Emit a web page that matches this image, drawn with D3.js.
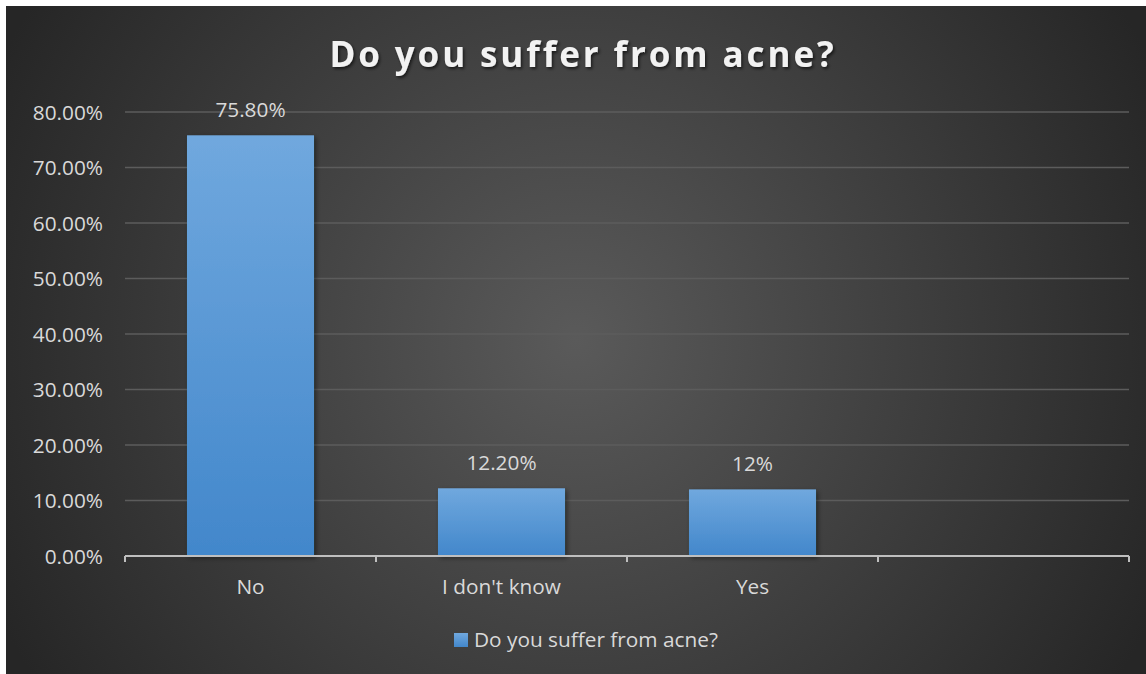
<!DOCTYPE html>
<html>
<head>
<meta charset="utf-8">
<script src="https://cdn.jsdelivr.net/npm/d3@7"></script>
<style>
html,body{margin:0;padding:0;background:#fff;}
svg{display:block;}
</style>
</head>
<body>
<svg id="chart" width="1146" height="674"></svg>
<script>
const title = "Do you suffer from acne?";
const categories = ["No", "I don't know", "Yes", ""];
const values = [0.758, 0.122, 0.12];
const valueLabels = ["75.80%", "12.20%", "12%"];
const yTicks = [0, 0.1, 0.2, 0.3, 0.4, 0.5, 0.6, 0.7, 0.8];
const seriesName = "Do you suffer from acne?";

const svg = d3.select("#chart");
const defs = svg.append("defs");
const font = "'Open Sans', 'Noto Sans', sans-serif";
const fs = "20.8px";

const bg = defs.append("radialGradient").attr("id","bg")
  .attr("gradientUnits","userSpaceOnUse").attr("cx",576).attr("cy",340).attr("r",640);
bg.append("stop").attr("offset","0%").attr("stop-color","#5a5a5a");
bg.append("stop").attr("offset","100%").attr("stop-color","#262626");

const bar = defs.append("linearGradient").attr("id","bar").attr("x1",0).attr("y1",0).attr("x2",0).attr("y2",1);
bar.append("stop").attr("offset","0%").attr("stop-color","#70a8de");
bar.append("stop").attr("offset","100%").attr("stop-color","#4287cb");

const sh = defs.append("filter").attr("id","sh").attr("x","-20%").attr("y","-20%").attr("width","140%").attr("height","140%");
sh.append("feDropShadow").attr("dx",2).attr("dy",2).attr("stdDeviation",2.5).attr("flood-color","#000").attr("flood-opacity",0.45);

const tsh = defs.append("filter").attr("id","tsh").attr("x","-10%").attr("y","-30%").attr("width","120%").attr("height","160%");
tsh.append("feDropShadow").attr("dx",1.5).attr("dy",2).attr("stdDeviation",1.5).attr("flood-color","#000").attr("flood-opacity",0.6);

svg.append("rect").attr("x",6).attr("y",6).attr("width",1140).attr("height",668).attr("fill","url(#bg)");

const x = d3.scaleBand().domain(categories).range([125, 1129]).padding(0);
const y = d3.scaleLinear().domain([0, 0.8]).range([556, 112]);
const barW = x.bandwidth() * 0.506;

// gridlines
svg.append("g").selectAll("line").data(yTicks.slice(1)).join("line")
  .attr("x1",125).attr("x2",1129)
  .attr("y1",d=>y(d)).attr("y2",d=>y(d))
  .attr("stroke","#5c5c5c").attr("stroke-width",1.5);

// y axis labels
const yAxis = d3.axisLeft(y).tickValues(yTicks).tickFormat(d3.format(".2%")).tickSize(0).tickPadding(0);
const gy = svg.append("g").attr("transform","translate(103,0)").call(yAxis);
gy.select(".domain").remove();
gy.selectAll("text").attr("fill","#d9d9d9").attr("font-family",font).attr("font-size",fs).attr("dy","0.34em");

// bars
svg.append("g").selectAll("rect").data(values).join("rect")
  .attr("x",(d,i)=>x(categories[i]) + x.bandwidth()/2 - barW/2)
  .attr("width",barW)
  .attr("y",d=>y(d))
  .attr("height",d=>y(0)-y(d))
  .attr("fill","url(#bar)")
  .attr("filter","url(#sh)");

// x axis
const xAxis = d3.axisBottom(x).tickSize(0).tickPadding(0);
const gx = svg.append("g").attr("transform","translate(0,556)").call(xAxis);
gx.select(".domain").attr("stroke","#bfbfbf").attr("stroke-width",2).attr("d","M125,0H1129");
gx.selectAll(".tick text").attr("fill","#d9d9d9").attr("font-family",font).attr("font-size",fs).attr("y",38).attr("dy",0);
const bounds = categories.map(c=>x(c)).concat([x(categories[categories.length-1]) + x.bandwidth()]);
gx.append("g").selectAll("line").data(bounds).join("line")
  .attr("x1",d=>d).attr("x2",d=>d).attr("y1",0).attr("y2",6)
  .attr("stroke","#bfbfbf").attr("stroke-width",2);

// value labels
svg.append("g").selectAll("text").data(values).join("text")
  .attr("x",(d,i)=>x(categories[i]) + x.bandwidth()/2)
  .attr("y",d=>y(d) - 18)
  .attr("text-anchor","middle")
  .attr("fill","#d9d9d9").attr("font-family",font).attr("font-size",fs)
  .text((d,i)=>valueLabels[i]);

// title
svg.append("text").attr("x",583).attr("y",67).attr("text-anchor","middle")
  .attr("fill","#f2f2f2").attr("font-family",font).attr("font-weight","bold")
  .attr("font-size","35px").attr("letter-spacing","2.9px")
  .attr("filter","url(#tsh)")
  .text(title);

// legend
svg.append("rect").attr("x",454).attr("y",633).attr("width",14).attr("height",14).attr("fill","url(#bar)");
svg.append("text").attr("x",474).attr("y",647).attr("fill","#d9d9d9")
  .attr("font-family",font).attr("font-size",fs).text(seriesName);
</script>
</body>
</html>
